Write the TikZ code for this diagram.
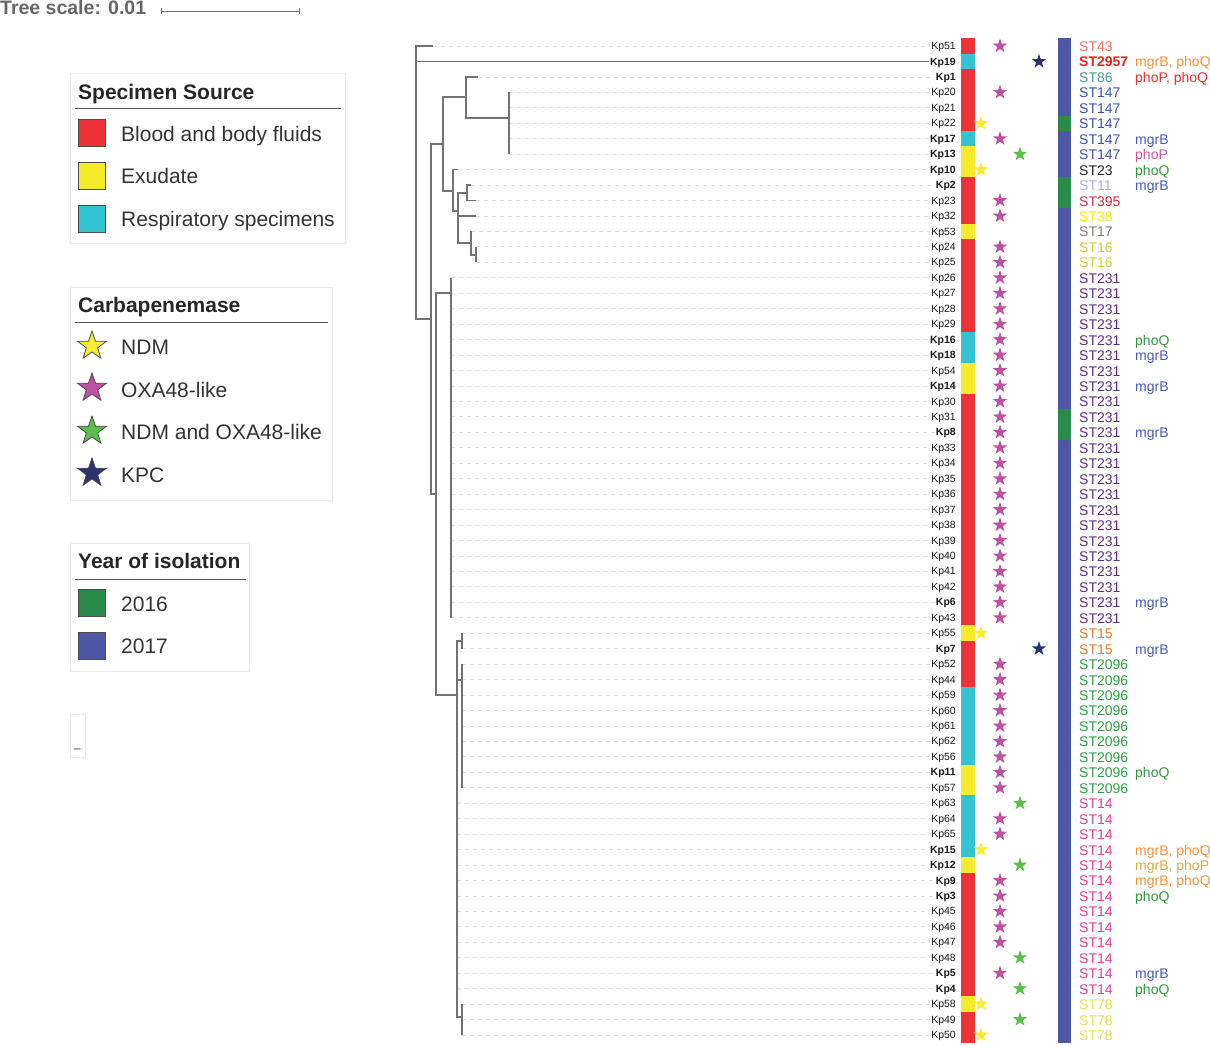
\documentclass[tikz,border=0pt]{standalone}
\usepackage{fontspec}
\setmainfont{Liberation Sans}
\usetikzlibrary{shapes.geometric}

% Colores
\definecolor{rojo}{HTML}{EE3338}
\definecolor{amarillo}{HTML}{F4EB2C}
\definecolor{cian}{HTML}{34C3D1}
\definecolor{verde}{HTML}{2A8A4C}
\definecolor{azul}{HTML}{4E57A6}
\definecolor{ndm}{HTML}{F5EC33}
\definecolor{oxa}{HTML}{C050A0}
\definecolor{dual}{HTML}{5CBF4C}
\definecolor{kpc}{HTML}{2E3170}
\definecolor{stA}{HTML}{F07060}
\definecolor{stB}{HTML}{E82020}
\definecolor{stC}{HTML}{4E9A8C}
\definecolor{stD}{HTML}{3D4FB0}
\definecolor{stE}{HTML}{222222}
\definecolor{stF}{HTML}{B0B0E0}
\definecolor{stG}{HTML}{D42850}
\definecolor{stH}{HTML}{F2EA10}
\definecolor{stI}{HTML}{8C7A78}
\definecolor{stJ}{HTML}{C5D43A}
\definecolor{stK}{HTML}{5B2F86}
\definecolor{stL}{HTML}{E8782A}
\definecolor{stM}{HTML}{2EA043}
\definecolor{stN}{HTML}{E83C8C}
\definecolor{stO}{HTML}{E6E050}
\definecolor{gnar}{HTML}{F7923A}
\definecolor{grojo}{HTML}{E83030}
\definecolor{gazul}{HTML}{4A5AB8}
\definecolor{grosa}{HTML}{D050A8}
\definecolor{gverde}{HTML}{2F9A3A}
\definecolor{gdor}{HTML}{D4AA4A}

\newcommand{\fila}[1]{(46+15.453*(#1))}

\tikzset{
  rama/.style={draw=black!55, line width=1.2pt},
  guia/.style={draw=black!13, dash pattern=on 4pt off 4pt, line width=0.8pt},
  kp/.style={anchor=east, inner sep=1pt, text=black!90, font=\fontsize{10.5}{12}\selectfont},
  estrella/.style={star, star points=5, star point ratio=2.5, minimum size=15pt, inner sep=0pt},
  lestrella/.style={star, star points=5, star point ratio=2.5, minimum size=30pt, inner sep=0pt, draw=black!70, line width=0.8pt},
  stlab/.style={anchor=base west, inner sep=0pt, font=\fontsize{14}{16}\selectfont},
  caja/.style={draw=black!8, line width=0.8pt},
  titulo/.style={anchor=base west, inner sep=0pt, text=black!85, font=\fontsize{21}{24}\selectfont\bfseries},
  item/.style={anchor=base west, inner sep=0pt, text=black!80, font=\fontsize{21}{24}\selectfont},
  cuadro/.style={draw=black!70, line width=0.8pt, minimum size=27pt, inner sep=0pt}
}

\begin{document}
\begin{tikzpicture}[x=1pt, y=-1pt]
  \useasboundingbox (0,0) rectangle (1210,1045);

  % Escala
  \node[anchor=base west, inner sep=0pt, text=black!60, font=\fontsize{19.5}{22}\selectfont\bfseries] (escala) at (0,14) {Tree scale: 0.01};
  \coordinate (e1) at (161,11);
  \coordinate (e2) at (299,11);
  \begin{scope}[draw=black!55, line width=1pt]
      \draw (e1) -- (e2);
      \draw (161,8) -- (161,14);
      \draw (299,8) -- (299,14);
  \end{scope}

  % Hojas
  \foreach \i/\tx/\lab in {
   0/433/Kp51, 1/416/\textbf{Kp19}, 2/478/\textbf{Kp1}, 3/509/Kp20, 4/509/Kp21,
   5/509/Kp22, 6/509/\textbf{Kp17}, 7/509/\textbf{Kp13}, 8/458/\textbf{Kp10},
   9/471/\textbf{Kp2}, 10/476/Kp23, 11/476/Kp32, 12/471/Kp53, 13/476/Kp24,
   14/476/Kp25, 15/451/Kp26, 16/451/Kp27, 17/451/Kp28, 18/451/Kp29,
   19/451/\textbf{Kp16}, 20/451/\textbf{Kp18}, 21/451/Kp54, 22/451/\textbf{Kp14},
   23/451/Kp30, 24/451/Kp31, 25/451/\textbf{Kp8}, 26/451/Kp33, 27/451/Kp34,
   28/451/Kp35, 29/451/Kp36, 30/451/Kp37, 31/451/Kp38, 32/451/Kp39, 33/451/Kp40,
   34/451/Kp41, 35/451/Kp42, 36/451/\textbf{Kp6}, 37/451/Kp43, 38/462/Kp55,
   39/462/\textbf{Kp7}, 40/462/Kp52, 41/462/Kp44, 42/462/Kp59, 43/462/Kp60,
   44/462/Kp61, 45/462/Kp62, 46/462/Kp56, 47/462/\textbf{Kp11}, 48/462/Kp57,
   49/457/Kp63, 50/457/Kp64, 51/457/Kp65, 52/457/\textbf{Kp15}, 53/457/\textbf{Kp12},
   54/457/\textbf{Kp9}, 55/457/\textbf{Kp3}, 56/457/Kp45, 57/457/Kp46, 58/457/Kp47,
   59/457/Kp48, 60/457/\textbf{Kp5}, 61/457/\textbf{Kp4}, 62/462/Kp58, 63/462/Kp49,
   64/462/Kp50}{
      \coordinate (t\i) at (\tx,{\fila{\i}});
      \node[kp] (k\i) at (957,{\fila{\i}+1}) {\lab};
      \draw[guia] (t\i) -- (k\i.west |- t\i);
  }

  % Arbol
  \coordinate (root) at (416,182);
  \coordinate (A) at (431,319);
  \coordinate (B) at (443,144);
  \coordinate (C) at (436,494);
  \coordinate (D) at (466,97);
  \coordinate (E) at (453,191);
  \coordinate (F) at (509,118);
  \coordinate (G) at (458,211);
  \coordinate (H) at (467,193);
  \coordinate (I) at (471,243);
  \coordinate (J) at (476,255);
  \coordinate (K) at (451,293);
  \coordinate (L) at (457,695);
  \coordinate (M) at (462,641);
  \coordinate (N) at (462,680);
  \coordinate (O) at (462,1017);
  \begin{scope}[rama]
      \draw (root) |- (t0);
      \draw (root) |- (k1.west |- t1);
      \draw (root) |- (A);
      \draw (A) |- (B);
      \draw (A) |- (C);
      \draw (B) |- (D);
      \draw (B) |- (E);
      \draw (D) |- (t2);
      \draw (D) |- (F);
      \foreach \i in {3,...,7} \draw (F) |- (t\i);
      \draw (E) |- (t8);
      \draw (E) |- (G);
      \draw (G) |- (H);
      \draw (G) |- (t11);
      \draw (G) |- (I);
      \draw (H) |- (t9);
      \draw (H) |- (t10);
      \draw (I) |- (t12);
      \draw (I) |- (J);
      \draw (J) |- (t13);
      \draw (J) |- (t14);
      \draw (C) |- (K);
      \draw (C) |- (L);
      \foreach \i in {15,...,37} \draw (K) |- (t\i);
      \draw (L) |- (M);
      \draw (L) |- (N);
      \draw (L) |- (O);
      \foreach \i in {49,...,61} \draw (L) |- (t\i);
      \draw (M) |- (t38);
      \draw (M) |- (t39);
      \foreach \i in {40,...,48} \draw (N) |- (t\i);
      \foreach \i in {62,...,64} \draw (O) |- (t\i);
  \end{scope}

  % Origen de la muestra
  \foreach \a/\b/\col in {0/0/rojo, 1/1/cian, 2/5/rojo, 6/6/cian, 7/8/amarillo,
   9/11/rojo, 12/12/amarillo, 13/18/rojo, 19/20/cian, 21/22/amarillo, 23/37/rojo,
   38/38/amarillo, 39/41/rojo, 42/46/cian, 47/48/amarillo, 49/52/cian,
   53/53/amarillo, 54/61/rojo, 62/62/amarillo, 63/64/rojo}
      \fill[fill=\col] (961,{\fila{\a}-7.73}) rectangle (975,{\fila{\b}+7.73});

  % Carbapenemasas
  \foreach \a/\b/\x/\col in {0/0/1000/oxa, 1/1/1039/kpc, 3/3/1000/oxa, 5/5/981/ndm,
   6/6/1000/oxa, 7/7/1020/dual, 8/8/981/ndm, 10/11/1000/oxa, 13/37/1000/oxa,
   38/38/981/ndm, 39/39/1039/kpc, 40/48/1000/oxa, 49/49/1020/dual, 50/51/1000/oxa,
   52/52/981/ndm, 53/53/1020/dual, 54/58/1000/oxa, 59/59/1020/dual, 60/60/1000/oxa,
   61/61/1020/dual, 62/62/981/ndm, 63/63/1020/dual, 64/64/981/ndm}
      \foreach \i in {\a,...,\b}
          \node[estrella, fill=\col] (c\i) at (\x,{\fila{\i}}) {};

  % Año
  \foreach \a/\b/\col in {0/4/azul, 5/5/verde, 6/8/azul, 9/10/verde, 11/23/azul,
   24/25/verde, 26/64/azul}
      \fill[fill=\col] (1058,{\fila{\a}-7.73}) rectangle (1071,{\fila{\b}+7.73});

  % ST
  \foreach \a/\b/\txt/\col in {0/0/ST43/stA, 1/1/\textbf{ST2957}/stB, 2/2/ST86/stC,
   3/7/ST147/stD, 8/8/ST23/stE, 9/9/ST11/stF, 10/10/ST395/stG, 11/11/ST38/stH,
   12/12/ST17/stI, 13/14/ST16/stJ, 15/37/ST231/stK, 38/39/ST15/stL,
   40/48/ST2096/stM, 49/61/ST14/stN, 62/64/ST78/stO}
      \foreach \i in {\a,...,\b}
          \node[stlab, text=\col] (s\i) at (1079,{\fila{\i}+5.5}) {\txt};

  % Genes
  \foreach \i/\txt/\col in {1/{mgrB, phoQ}/gnar, 2/{phoP, phoQ}/grojo, 6/mgrB/gazul,
   7/phoP/grosa, 8/phoQ/gverde, 9/mgrB/gazul, 19/phoQ/gverde, 20/mgrB/gazul,
   22/mgrB/gazul, 25/mgrB/gazul, 36/mgrB/gazul, 39/mgrB/gazul, 47/phoQ/gverde,
   52/{mgrB, phoQ}/gnar, 53/{mgrB, phoP}/gdor, 54/{mgrB, phoQ}/gnar,
   55/phoQ/gverde, 60/mgrB/gazul, 61/phoQ/gverde}
      \node[stlab, text=\col] (g\i) at (1135,{\fila{\i}+5.5}) {\txt};

  % Leyenda: origen
  \draw[caja] (70,73) rectangle (345,243);
  \node[titulo] (tit1) at (78,99) {Specimen Source};
  \draw[black!65, line width=1pt] (75,108) -- (341,108);
  \node[cuadro, fill=rojo] (q1) at (92,133) {};
  \node[cuadro, fill=amarillo] (q2) at (92,176) {};
  \node[cuadro, fill=cian] (q3) at (92,219) {};
  \node[item] (i1) at (121,141) {Blood and body fluids};
  \node[item] (i2) at (121,183.5) {Exudate};
  \node[item] (i3) at (121,226) {Respiratory specimens};

  % Leyenda: carbapenemasa
  \draw[caja] (70,287) rectangle (332,500);
  \node[titulo] (tit2) at (78,312) {Carbapenemase};
  \draw[black!65, line width=1pt] (75,322) -- (328,322);
  \node[lestrella, fill=ndm] (l1) at (92,346) {};
  \node[lestrella, fill=oxa] (l2) at (92,388) {};
  \node[lestrella, fill=dual] (l3) at (92,431) {};
  \node[lestrella, fill=kpc] (l4) at (92,473) {};
  \node[item] (i4) at (121,354) {NDM};
  \node[item] (i5) at (121,397) {OXA48-like};
  \node[item] (i6) at (121,439) {NDM and OXA48-like};
  \node[item] (i7) at (121,482) {KPC};

  % Leyenda: año
  \draw[caja] (70,543) rectangle (249,671);
  \node[titulo] (tit3) at (78,568) {Year of isolation};
  \draw[black!65, line width=1pt] (75,579) -- (246,579);
  \node[cuadro, fill=verde] (q4) at (92,603) {};
  \node[cuadro, fill=azul] (q5) at (92,646) {};
  \node[item] (i8) at (121,611) {2016};
  \node[item] (i9) at (121,653) {2017};

  % Leyenda vacia
  \draw[caja] (70,714) rectangle (85,757);
  \node[anchor=base west, inner sep=0pt, text=black!80, font=\fontsize{12}{12}\selectfont] (vacio) at (74,752) {–};
\end{tikzpicture}
\end{document}
